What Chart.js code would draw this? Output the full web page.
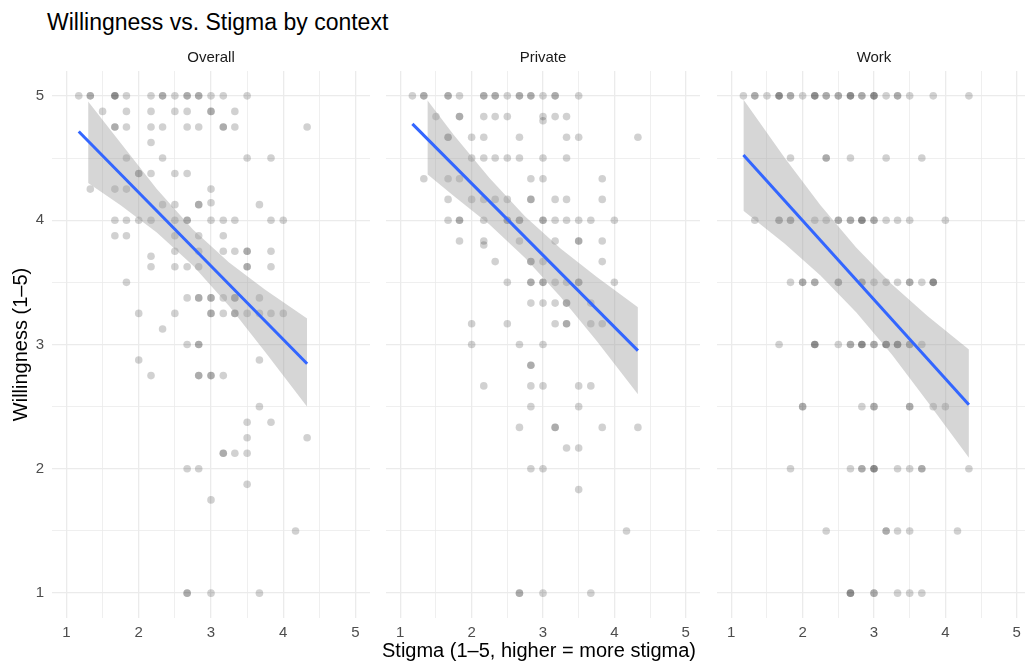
<!DOCTYPE html>
<html>
<head>
<meta charset="utf-8">
<title>Willingness vs. Stigma by context</title>
<script src="https://cdn.jsdelivr.net/npm/chart.js@4.4.1/dist/chart.umd.min.js"></script>
<style>
  html, body { margin: 0; padding: 0; width: 1025px; height: 666px; overflow: hidden; background: #fff;
               font-family: 'Liberation Sans', Arial, sans-serif; }
  canvas { position: absolute; top: 0; }
  #title { position: absolute; left: 47px; top: 8px; font-size: 23px; line-height: 28px; color: #000; white-space: nowrap; }
  #xtitle { position: absolute; left: 339px; width: 400px; top: 639px; font-size: 20px; line-height: 22px;
            text-align: center; color: #000; white-space: nowrap; }
</style>
</head>
<body>
<div id="title">Willingness vs. Stigma by context</div>
<canvas id="overallChart" width="374" height="666" style="left:0px"></canvas>
<canvas id="privateChart" width="322" height="666" style="left:382px"></canvas>
<canvas id="workChart" width="322" height="666" style="left:713px"></canvas>
<div id="xtitle">Stigma (1–5, higher = more stigma)</div>
<script>
// scatter rows: [willingness, [stigma, ...]]  (repeats = overlapping respondents)
const overallRows = [
  [5,     [1.17, 1.33, 1.33, 1.67, 1.67, 1.67, 1.83, 2.17, 2.33, 2.33, 2.5, 2.67, 2.67, 2.83, 2.83, 3, 3.17, 3.5]],
  [4.875, [1.5, 1.83, 2.17, 2.5, 2.67, 3, 3, 3.33]],
  [4.75,  [1.67, 1.67, 1.83, 2.17, 2.33, 2.67, 2.83, 3.17, 3.17, 3.33, 4.33]],
  [4.625, [2.17]],
  [4.5,   [1.83, 2.33, 3.5, 3.83]],
  [4.375, [2, 2, 2.17, 2.5, 2.67]],
  [4.25,  [1.33, 1.67, 1.83, 3]],
  [4.14,  [3]],
  [4.125, [2.33, 2.5, 2.83, 2.83, 3.67]],
  [4,     [1.67, 1.83, 2, 2.17, 2.5, 2.67, 2.67, 3, 3.17, 3.33, 3.83, 4]],
  [3.875, [1.67, 1.83, 2.5, 2.83, 3.17]],
  [3.75,  [2.5, 2.83, 3.17, 3.33, 3.5, 3.5, 3.83]],
  [3.71,  [2.17]],
  [3.625, [2.17, 2.5, 2.67, 2.83, 3.5, 3.5, 3.83]],
  [3.5,   [1.83]],
  [3.375, [2.67, 2.83, 2.83, 3, 3, 3.17, 3.33, 3.33, 3.67]],
  [3.25,  [2, 2.5, 3, 3, 3.17, 3.33, 3.33, 3.5, 3.67, 3.83, 4]],
  [3.125, [2.33]],
  [3,     [2.67, 2.83, 2.83]],
  [2.875, [2, 3.67]],
  [2.75,  [2.17, 2.83, 2.83, 3, 3, 3.17]],
  [2.5,   [3.67]],
  [2.375, [3.5, 3.83]],
  [2.25,  [3.5, 4.33]],
  [2.125, [3.17, 3.17, 3.33, 3.5]],
  [2,     [2.67, 2.83]],
  [1.875, [3.5]],
  [1.75,  [3]],
  [1.5,   [4.17]],
  [1,     [2.67, 2.67, 3, 3.67]]
];

const privateRows = [
  [5,     [1.17, 1.33, 1.33, 1.67, 1.67, 1.83, 2.17, 2.17, 2.33, 2.33, 2.5, 2.67, 2.67, 2.83, 2.83, 3, 3.17, 3.17, 3.5]],
  [4.833, [1.5, 1.83, 1.83, 2.17, 2.33, 2.5, 3, 3.17, 3.33]],
  [4.8,   [3]],
  [4.667, [1.67, 1.67, 2, 2.17, 2.67, 3.33, 3.5, 4.33]],
  [4.5,   [2, 2.17, 2.33, 2.5, 2.67, 3, 3.33]],
  [4.333, [1.33, 1.67, 1.83, 2.83, 3, 3.83]],
  [4.167, [1.67, 2, 2.17, 2.33, 2.5, 2.83, 2.83, 3.17, 3.33, 3.83]],
  [4,     [1.67, 1.83, 1.83, 2.17, 2.5, 2.5, 2.67, 2.67, 3, 3, 3.17, 3.33, 3.5, 3.67, 4]],
  [3.833, [1.83, 2.17, 2.67, 3.17, 3.5, 3.5, 3.83]],
  [3.8,   [2.17]],
  [3.667, [2.33, 2.83, 2.83, 3, 3.83]],
  [3.5,   [2.5, 2.83, 2.83, 3, 3, 3.17, 3.33, 3.5, 3.5, 4]],
  [3.333, [2.83, 3, 3.17, 3.33, 3.33, 3.67]],
  [3.167, [2, 2.5, 3.17, 3.33, 3.33, 3.67, 3.83]],
  [3,     [2, 2.67, 3]],
  [2.833, [2.83, 2.83]],
  [2.667, [2.17, 2.83, 3, 3.5, 3.67]],
  [2.5,   [2.83, 3.5]],
  [2.333, [2.67, 3.17, 3.17, 3.83, 4.33]],
  [2.167, [3.33, 3.5]],
  [2,     [2.83, 3]],
  [1.833, [3.5]],
  [1.5,   [4.17]],
  [1,     [2.67, 2.67, 3, 3.67]]
];

const workRows = [
  [5,   [1.17, 1.33, 1.33, 1.5, 1.67, 1.67, 1.67, 1.83, 1.83, 2, 2.17, 2.17, 2.17, 2.33, 2.33, 2.5, 2.5,
         2.67, 2.67, 2.67, 2.83, 2.83, 3, 3, 3, 3.17, 3.33, 3.33, 3.5, 3.83, 4.33]],
  [4.5, [1.83, 2.33, 2.33, 2.67, 3.17, 3.67]],
  [4,   [1.33, 1.67, 1.67, 1.83, 1.83, 2.17, 2.33, 2.5, 2.5, 2.67, 2.67, 2.83, 2.83, 2.83, 3, 3, 3.17, 3.33, 3.5, 4]],
  [3.5, [1.83, 2, 2, 2.17, 2.17, 2.5, 2.5, 2.83, 2.83, 3, 3.17, 3.33, 3.5, 3.5, 3.67, 3.83, 3.83, 3.83]],
  [3,   [1.67, 2.17, 2.17, 2.17, 2.5, 2.67, 2.67, 2.83, 2.83, 2.83, 3, 3, 3.17, 3.17, 3.17, 3.33, 3.33, 3.33, 3.5, 3.5, 3.67]],
  [2.5, [2, 2, 2.83, 3, 3, 3.5, 3.5, 3.83, 4]],
  [2,   [1.83, 2.67, 2.83, 2.83, 3, 3, 3, 3.33, 3.5, 3.67, 3.67, 4.33]],
  [1.5, [2.33, 3.17, 3.17, 3.33, 3.5, 4.17]],
  [1,   [2.67, 2.67, 2.67, 3, 3, 3.33, 3.5, 3.67]]
];

// lm fit endpoints and 95% band, per context
const overallFit = [[1.17, 4.713], [4.33, 2.845]];
const overallBandX  = [1.3, 1.75, 2.25, 2.75, 3.25, 3.75, 4.33];
const overallBandHi = [4.955, 4.62, 4.25, 3.925, 3.66, 3.44, 3.21];
const overallBandLo = [4.30, 4.12, 3.90, 3.635, 3.31, 2.94, 2.50];

const privateFit = [[1.17, 4.775], [4.33, 2.951]];
const privateBandX  = [1.38, 1.75, 2.25, 2.75, 3.25, 3.75, 4.33];
const privateBandHi = [4.965, 4.685, 4.34, 4.03, 3.77, 3.545, 3.30];
const privateBandLo = [4.37, 4.195, 3.965, 3.695, 3.38, 3.03, 2.60];

const workFit = [[1.17, 4.525], [4.33, 2.515]];
const workBandX  = [1.17, 1.75, 2.25, 2.75, 3.25, 3.75, 4.33];
const workBandHi = [4.97, 4.50, 4.12, 3.78, 3.485, 3.23, 2.96];
const workBandLo = [4.075, 3.81, 3.555, 3.26, 2.92, 2.54, 2.09];

Chart.defaults.font.family = "'Liberation Sans', Arial, sans-serif";

const isWhole = v => Math.abs(v - Math.round(v)) < 1e-6;

// facet strip label, centred over the plotting area
const stripLabel = {
    id: 'stripLabel',
    afterDraw(chart, args, opts) {
        const {ctx, chartArea} = chart;
        ctx.save();
        ctx.font = "15px 'Liberation Sans', Arial, sans-serif";
        ctx.fillStyle = '#1a1a1a';
        ctx.textAlign = 'center';
        ctx.textBaseline = 'middle';
        ctx.fillText(opts.text, (chartArea.left + chartArea.right) / 2, 58);
        ctx.restore();
    }
};

function toPoints(rows) {
    const pts = [];
    rows.forEach(([will, stigmas]) => stigmas.forEach(s => pts.push({x: s, y: will})));
    return pts;
}

function gridStyle() {
    return {
        color: '#ebebeb',
        lineWidth: c => isWhole(c.tick.value) ? 1.3 : 0.8,
        drawTicks: false
    };
}

function panel(id, label, rows, fit, bandX, bandHi, bandLo, firstPanel) {
    const ctx = document.getElementById(id).getContext('2d');
    return new Chart(ctx, {
        type: 'scatter',
        data: {
            datasets: [
                {
                    type: 'line',
                    data: fit.map(([x, y]) => ({x, y})),
                    borderColor: '#3366FF',
                    borderWidth: 3,
                    pointRadius: 0,
                    fill: false
                },
                {
                    type: 'line',
                    data: bandX.map((x, i) => ({x, y: bandHi[i]})),
                    borderColor: 'transparent',
                    borderWidth: 0,
                    pointRadius: 0,
                    backgroundColor: 'rgba(153, 153, 153, 0.4)',
                    fill: '+1'
                },
                {
                    type: 'line',
                    data: bandX.map((x, i) => ({x, y: bandLo[i]})),
                    borderColor: 'transparent',
                    borderWidth: 0,
                    pointRadius: 0,
                    fill: false
                },
                {
                    data: toPoints(rows),
                    backgroundColor: 'rgba(0, 0, 0, 0.18)',
                    borderWidth: 0,
                    pointRadius: 3.8
                }
            ]
        },
        options: {
            responsive: false,
            animation: false,
            events: [],
            layout: {padding: {top: 71, bottom: 18, left: 0, right: 0}},
            plugins: {
                legend: {display: false},
                tooltip: {enabled: false},
                stripLabel: {text: label}
            },
            scales: {
                x: {
                    type: 'linear',
                    min: 0.8,
                    max: 5.2,
                    border: {display: false},
                    grid: gridStyle(),
                    ticks: {
                        stepSize: 0.5,
                        includeBounds: false,
                        autoSkip: false,
                        maxRotation: 0,
                        padding: 6,
                        color: '#4d4d4d',
                        font: {size: 15},
                        callback: v => isWhole(v) ? String(Math.round(v)) : ''
                    },
                    afterFit: s => { s.height = 30; }
                },
                y: {
                    type: 'linear',
                    min: 0.8,
                    max: 5.2,
                    border: {display: false},
                    grid: gridStyle(),
                    title: {
                        display: firstPanel,
                        text: 'Willingness (1–5)',
                        color: '#000',
                        font: {size: 20},
                        padding: {top: 9, bottom: 0}
                    },
                    ticks: {
                        display: firstPanel,
                        stepSize: 0.5,
                        includeBounds: false,
                        autoSkip: false,
                        padding: 8,
                        color: '#4d4d4d',
                        font: {size: 15},
                        callback: v => isWhole(v) ? String(Math.round(v)) : ''
                    },
                    afterFit: s => { s.width = firstPanel ? 52 : 0; }
                }
            }
        },
        plugins: [stripLabel]
    });
}

panel('overallChart', 'Overall', overallRows, overallFit, overallBandX, overallBandHi, overallBandLo, true);
panel('privateChart', 'Private', privateRows, privateFit, privateBandX, privateBandHi, privateBandLo, false);
panel('workChart', 'Work', workRows, workFit, workBandX, workBandHi, workBandLo, false);
</script>
</body>
</html>
